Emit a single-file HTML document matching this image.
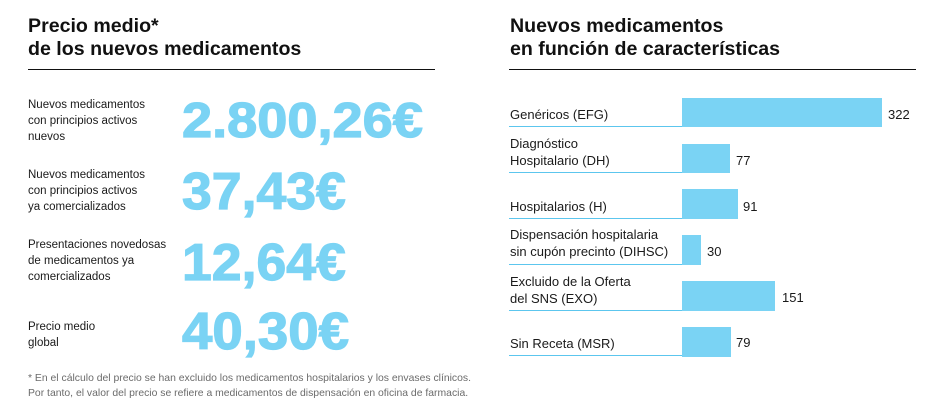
<!DOCTYPE html>
<html>
<head>
<meta charset="utf-8">
<style>
  html,body{margin:0;padding:0;background:#fff;}
  body{width:944px;height:418px;position:relative;overflow:hidden;font-family:"Liberation Sans",Arial,sans-serif;color:#1a1a1a;}
  .abs{position:absolute;white-space:nowrap;}
  .title{font-size:19.6px;line-height:23px;font-weight:bold;color:#111;}
  .rule{position:absolute;height:1px;background:#111;}
  .llab{font-size:11.5px;line-height:16px;color:#1a1a1a;}
  .big{font-weight:bold;color:#7ad3f4;transform-origin:0 0;-webkit-text-stroke:1.2px #7ad3f4;}
  .rlab{font-size:13px;line-height:17px;color:#1a1a1a;}
  .bar{position:absolute;left:682px;background:#7ad3f4;}
  .ul{position:absolute;left:509px;width:173px;height:1px;background:#5cc6ee;}
  .val{font-size:13px;line-height:17px;color:#1a1a1a;}
  .foot{font-size:10.4px;line-height:15px;color:#6b6b6b;}
</style>
</head>
<body>
  <!-- Left panel -->
  <div class="abs title" style="left:28px;top:15px;">Precio medio*<br>de los nuevos medicamentos</div>
  <div class="rule" style="left:28px;top:69px;width:407px;"></div>

  <div class="abs llab" style="left:28px;top:97px;">Nuevos medicamentos<br>con principios activos<br>nuevos</div>
  <div class="abs big" style="left:182px;top:97px;font-size:49px;line-height:49px;transform:scaleX(1.105);">2.800,26€</div>

  <div class="abs llab" style="left:28px;top:167px;">Nuevos medicamentos<br>con principios activos<br>ya comercializados</div>
  <div class="abs big" style="left:182px;top:166px;font-size:52px;line-height:52px;transform:scaleX(1.03);">37,43€</div>

  <div class="abs llab" style="left:28px;top:237px;">Presentaciones novedosas<br>de medicamentos ya<br>comercializados</div>
  <div class="abs big" style="left:182px;top:237px;font-size:52px;line-height:52px;transform:scaleX(1.03);">12,64€</div>

  <div class="abs llab" style="left:28px;top:319px;">Precio medio<br>global</div>
  <div class="abs big" style="left:182px;top:306px;font-size:52px;line-height:52px;transform:scaleX(1.05);">40,30€</div>

  <div class="abs foot" style="left:28px;top:371px;">* En el cálculo del precio se han excluido los medicamentos hospitalarios y los envases clínicos.<br>Por tanto, el valor del precio se refiere a medicamentos de dispensación en oficina de farmacia.</div>

  <!-- Right panel -->
  <div class="abs title" style="left:510px;top:15px;">Nuevos medicamentos<br>en función de características</div>
  <div class="rule" style="left:509px;top:69px;width:407px;"></div>

  <!-- Row 1 -->
  <div class="abs rlab" style="left:510px;top:106px;">Genéricos (EFG)</div>
  <div class="bar" style="top:98px;height:29px;width:200px;"></div>
  <div class="ul" style="top:126px;"></div>
  <div class="abs val" style="left:888px;top:106px;">322</div>

  <!-- Row 2 -->
  <div class="abs rlab" style="left:510px;top:135px;">Diagnóstico<br>Hospitalario (DH)</div>
  <div class="bar" style="top:144px;height:29px;width:48px;"></div>
  <div class="ul" style="top:172px;"></div>
  <div class="abs val" style="left:736px;top:152px;">77</div>

  <!-- Row 3 -->
  <div class="abs rlab" style="left:510px;top:198px;">Hospitalarios (H)</div>
  <div class="bar" style="top:189px;height:30px;width:56px;"></div>
  <div class="ul" style="top:218px;"></div>
  <div class="abs val" style="left:743px;top:198px;">91</div>

  <!-- Row 4 -->
  <div class="abs rlab" style="left:510px;top:226px;">Dispensación hospitalaria<br>sin cupón precinto (DIHSC)</div>
  <div class="bar" style="top:235px;height:30px;width:19px;"></div>
  <div class="ul" style="top:264px;"></div>
  <div class="abs val" style="left:707px;top:243px;">30</div>

  <!-- Row 5 -->
  <div class="abs rlab" style="left:510px;top:273px;">Excluido de la Oferta<br>del SNS (EXO)</div>
  <div class="bar" style="top:281px;height:30px;width:93px;"></div>
  <div class="ul" style="top:310px;"></div>
  <div class="abs val" style="left:782px;top:289px;">151</div>

  <!-- Row 6 -->
  <div class="abs rlab" style="left:510px;top:335px;">Sin Receta (MSR)</div>
  <div class="bar" style="top:327px;height:30px;width:49px;"></div>
  <div class="ul" style="top:355px;"></div>
  <div class="abs val" style="left:736px;top:334px;">79</div>
</body>
</html>
